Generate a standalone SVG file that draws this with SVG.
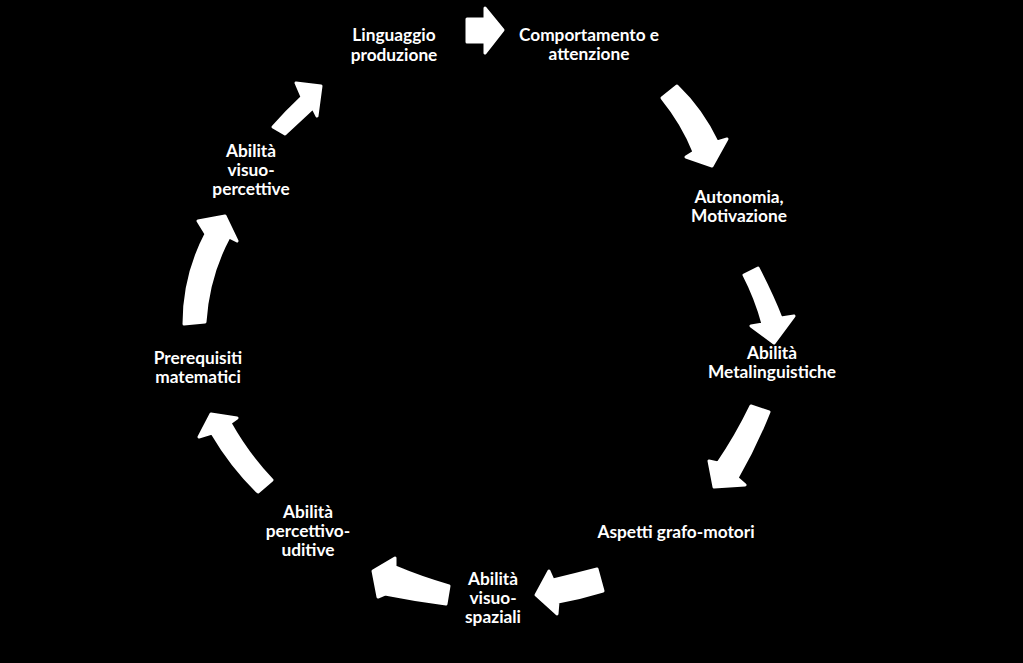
<svg xmlns="http://www.w3.org/2000/svg" width="1023" height="663" viewBox="0 0 1023 663">
<style>
.t{font-family:Lato,"Open Sans","Liberation Sans",sans-serif;font-weight:bold;font-size:17.3px;fill:#fff;text-anchor:middle}
.a{fill:#fff;stroke:#fff;stroke-width:3;stroke-linejoin:round}
</style>
<rect width="1023" height="663" fill="#000"/>
<g id="connectors">
<path class="a" d="M467,19 L485,19 L485,8 L503,30 L485,53 L485,42 L467,42 Z"/>
<path class="a" d="M662,98 L677,86 Q702,110 717,142 L727,139 L712,166 L686,157 L694,152 Q683,124 662,98 Z"/>
<path class="a" d="M744,275 L758,268 Q772,295 781,318 L794,316 L774,343 L751,326 L763,324 Q756,298 744,275 Z"/>
<path class="a" d="M751,406 L769,412 Q755,447 737,478 L745,485 L714,487 L709,461 L718,463 Q736,437 751,406 Z"/>
<path class="a" d="M597,569 L603,591 Q580,598 558,602 L557,614 L536,595 L549,571 L553,580 Q574,575 597,569 Z"/>
<path class="a" d="M449,586 L446,604 Q415,600 385,594 L378,597 L373,571 L395,558 L395,567 Q421,578 449,586 Z"/>
<path class="a" d="M272,480 L258,492 Q232,467 212,433 L199,437 L211,414 L237,418 L230,423 Q248,455 272,480 Z"/>
<path class="a" d="M184,324 L205,322 Q208,276 229,237 L237,241 L225,216 L198,221 L206,234 Q184,276 184,324 Z"/>
<path class="a" d="M273,127 L285,134 Q300,120 313,108 L317,116 L321,86 L296,83 L302,97 Q287,111 273,127 Z"/>
</g>
<g id="n1"><text class="t" x="394" y="41">Linguaggio</text><text class="t" x="394" y="61">produzione</text></g>
<g id="n2"><text class="t" x="589" y="41">Comportamento e</text><text class="t" x="589" y="60">attenzione</text></g>
<g id="n3"><text class="t" x="739" y="203">Autonomia,</text><text class="t" x="739" y="222">Motivazione</text></g>
<g id="n4"><text class="t" x="772" y="359">Abilità</text><text class="t" x="772" y="378">Metalinguistiche</text></g>
<g id="n5"><text class="t" x="676" y="538">Aspetti grafo-motori</text></g>
<g id="n6"><text class="t" x="493" y="585">Abilità</text><text class="t" x="493" y="604">visuo-</text><text class="t" x="493" y="623">spaziali</text></g>
<g id="n7"><text class="t" x="308" y="518">Abilità</text><text class="t" x="308" y="537">percettivo-</text><text class="t" x="308" y="556">uditive</text></g>
<g id="n8"><text class="t" x="198" y="364">Prerequisiti</text><text class="t" x="198" y="383">matematici</text></g>
<g id="n9"><text class="t" x="251" y="157">Abilità</text><text class="t" x="251" y="176">visuo-</text><text class="t" x="251" y="195">percettive</text></g>
</svg>
